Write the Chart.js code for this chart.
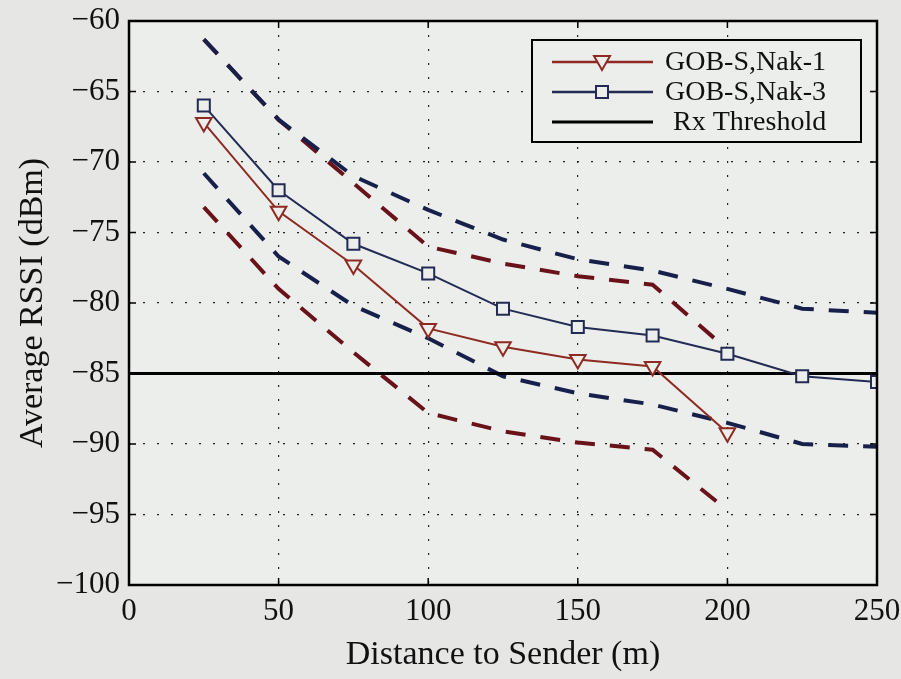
<!DOCTYPE html>
<html>
<head>
<meta charset="utf-8">
<script src="https://cdn.jsdelivr.net/npm/chart.js@4/dist/chart.umd.min.js"></script>
<style>
  html, body { margin: 0; padding: 0; background: #e6e7e5; }
  #wrap { width: 901px; height: 679px; }
</style>
</head>
<body>
<div id="wrap"><canvas id="rssiChart" width="901" height="679"></canvas></div>
<script>
// Data
const distance = [25, 50, 75, 100, 125, 150, 175, 200, 225, 250];
const nak1 = [-67.2, -73.5, -77.3, -81.8, -83.1, -84.0, -84.5, -89.2];
const nak3 = [-66.0, -72.0, -75.8, -77.9, -80.4, -81.7, -82.3, -83.6, -85.2, -85.6];
const nak1Upper = [-61.3, -67.0, -71.5, -76.0, -77.2, -78.1, -78.7, -83.3];
const nak1Lower = [-73.2, -79.0, -83.5, -87.8, -89.1, -89.9, -90.4, -94.7];
const nak3Upper = [-61.3, -67.0, -71.0, -73.4, -75.5, -76.9, -77.7, -79.0, -80.4, -80.7];
const nak3Lower = [-70.8, -76.7, -80.2, -82.5, -85.2, -86.4, -87.2, -88.5, -90.0, -90.2];
const rxThreshold = -85;
const xRange = [0, 250];
const xTicks = [0, 50, 100, 150, 200, 250];
const yTicks = [-100, -95, -90, -85, -80, -75, -70, -65, -60];

const RED = '#8e2a22';
const RED_DASH = '#6a1219';
const BLUE = '#232b55';
const BLUE_DASH = '#17204a';
const PLOT_BG = '#eceeeb';
const SERIF = '"Liberation Serif", "DejaVu Serif", serif';

function pts(xs, ys) {
    return ys.map((y, i) => ({ x: xs[i], y: y }));
}

function minus(v) {
    return v < 0 ? '\u2212' + Math.abs(v) : String(v);
}

// frame, inward ticks and legend (drawn like the MATLAB figure)
const figurePlugin = {
    id: 'figure',
    beforeDraw(chart) {
        const { ctx, chartArea: a } = chart;
        ctx.save();
        ctx.fillStyle = PLOT_BG;
        ctx.fillRect(a.left, a.top, a.right - a.left, a.bottom - a.top);
        ctx.restore();
    },
    afterDraw(chart) {
        const { ctx, chartArea: a, scales } = chart;
        ctx.save();
        ctx.strokeStyle = '#000';
        ctx.lineWidth = 1.5;
        ctx.beginPath();
        xTicks.forEach(v => {
            const px = scales.x.getPixelForValue(v);
            ctx.moveTo(px, a.bottom); ctx.lineTo(px, a.bottom - 7);
            ctx.moveTo(px, a.top); ctx.lineTo(px, a.top + 7);
        });
        yTicks.forEach(v => {
            const py = scales.y.getPixelForValue(v);
            ctx.moveTo(a.left, py); ctx.lineTo(a.left + 7, py);
            ctx.moveTo(a.right, py); ctx.lineTo(a.right - 7, py);
        });
        ctx.stroke();

        ctx.lineWidth = 2.5;
        ctx.strokeRect(a.left, a.top, a.right - a.left, a.bottom - a.top);

        // legend box
        const bx = 532, by = 40, bw = 329, bh = 102;
        ctx.fillStyle = PLOT_BG;
        ctx.fillRect(bx, by, bw, bh);
        ctx.lineWidth = 2;
        ctx.strokeRect(bx, by, bw, bh);

        const rows = [
            { label: 'GOB-S,Nak-1', color: RED, marker: 'tri', y: 62 },
            { label: 'GOB-S,Nak-3', color: BLUE, marker: 'sq', y: 92 },
            { label: 'Rx Threshold', color: '#000', marker: null, y: 122 }
        ];
        rows.forEach(r => {
            ctx.strokeStyle = r.color;
            ctx.lineWidth = r.marker ? 2.5 : 3;
            ctx.beginPath();
            ctx.moveTo(552, r.y); ctx.lineTo(653, r.y);
            ctx.stroke();
            const cx = 602;
            ctx.lineWidth = 2;
            ctx.fillStyle = PLOT_BG;
            if (r.marker === 'tri') {
                ctx.beginPath();
                ctx.moveTo(cx - 8, r.y - 6);
                ctx.lineTo(cx + 8, r.y - 6);
                ctx.lineTo(cx, r.y + 8);
                ctx.closePath();
                ctx.fill(); ctx.stroke();
            } else if (r.marker === 'sq') {
                ctx.fillRect(cx - 6, r.y - 6, 12, 12);
                ctx.strokeRect(cx - 6, r.y - 6, 12, 12);
            }
            ctx.fillStyle = '#111';
            ctx.font = '28px ' + SERIF;
            ctx.textBaseline = 'middle';
            ctx.textAlign = 'left';
            ctx.fillText(r.label, r.marker ? 665 : 673, r.y + 1);
        });
        ctx.restore();
    }
};

const dashed = (data, color) => ({
    data: data,
    borderColor: color,
    borderWidth: 4,
    borderDash: [20, 15],
    pointRadius: 0,
    fill: false,
    tension: 0
});

new Chart(document.getElementById('rssiChart'), {
    type: 'line',
    data: {
        datasets: [
            {
                label: 'GOB-S,Nak-1',
                data: pts(distance, nak1),
                borderColor: RED,
                borderWidth: 2,
                pointStyle: 'triangle',
                rotation: 180,
                pointRadius: 9,
                pointBorderWidth: 2,
                pointBorderColor: RED,
                pointBackgroundColor: PLOT_BG,
                tension: 0
            },
            {
                label: 'GOB-S,Nak-3',
                data: pts(distance, nak3),
                borderColor: BLUE,
                borderWidth: 2,
                pointStyle: 'rect',
                pointRadius: 8.5,
                pointBorderWidth: 2,
                pointBorderColor: BLUE,
                pointBackgroundColor: PLOT_BG,
                tension: 0
            },
            {
                label: 'Rx Threshold',
                data: [{ x: xRange[0], y: rxThreshold }, { x: xRange[1], y: rxThreshold }],
                borderColor: '#000',
                borderWidth: 3,
                pointRadius: 0
            },
            dashed(pts(distance, nak3Upper), BLUE_DASH),
            dashed(pts(distance, nak3Lower), BLUE_DASH),
            dashed(pts(distance, nak1Upper), RED_DASH),
            dashed(pts(distance, nak1Lower), RED_DASH)
        ]
    },
    options: {
        responsive: false,
        animation: false,
        events: [],
        layout: { padding: { left: 0, right: 24, top: 21, bottom: 0 } },
        plugins: {
            legend: { display: false },
            tooltip: { enabled: false }
        },
        scales: {
            x: {
                type: 'linear',
                min: xRange[0],
                max: xRange[1],
                afterBuildTicks: s => { s.ticks = xTicks.map(v => ({ value: v })); },
                afterFit: s => { s.height = 94; s.paddingLeft = 0; s.paddingRight = 0; },
                grid: { color: '#222', lineWidth: 1.2, drawTicks: false },
                border: { display: false, dash: [2, 12] },
                ticks: {
                    color: '#111',
                    padding: 8,
                    maxRotation: 0,
                    font: { family: SERIF, size: 31 },
                    callback: v => minus(v)
                },
                title: {
                    display: true,
                    text: 'Distance to Sender (m)',
                    color: '#111',
                    font: { family: SERIF, size: 34 },
                    padding: { top: 0, bottom: 4 }
                }
            },
            y: {
                min: -100,
                max: -60,
                afterBuildTicks: s => { s.ticks = yTicks.map(v => ({ value: v })); },
                afterFit: s => { s.width = 129; s.paddingTop = 0; s.paddingBottom = 0; },
                grid: { color: '#222', lineWidth: 1.2, drawTicks: false },
                border: { display: false, dash: [2, 12] },
                ticks: {
                    color: '#111',
                    padding: 9,
                    font: { family: SERIF, size: 31 },
                    callback: v => minus(v)
                },
                title: {
                    display: true,
                    text: 'Average RSSI (dBm)',
                    color: '#111',
                    font: { family: SERIF, size: 34 },
                    padding: { top: 13, bottom: 0 }
                }
            }
        }
    },
    plugins: [figurePlugin]
});
</script>
</body>
</html>
